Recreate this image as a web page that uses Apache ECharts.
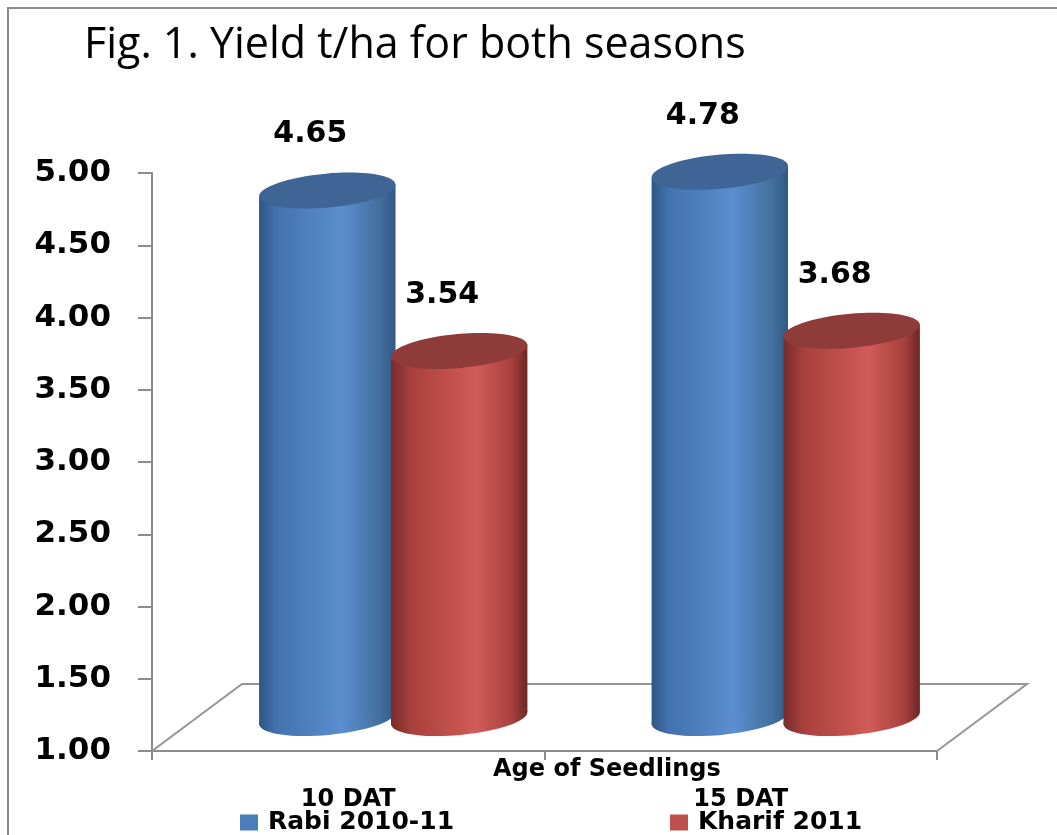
<!DOCTYPE html>
<html>
<head>
<meta charset="utf-8">
<script src="https://cdn.jsdelivr.net/npm/echarts@6/dist/echarts.min.js"></script>
<style>
  html, body { margin: 0; padding: 0; background: #ffffff; overflow: hidden; }
  #chart { width: 1057px; height: 835px; }
</style>
</head>
<body>
<div id="chart"></div>
<script>
// ---- data ----
const categories = ['10 DAT', '15 DAT'];
const seriesNames = ['Rabi 2010-11', 'Kharif 2011'];
const rabiValues = [4.65, 4.78];
const kharifValues = [3.54, 3.68];
const Y_MIN = 1.0;
const Y_MAX = 5.0;
const Y_STEP = 0.5;
const titleText = 'Fig. 1. Yield t/ha for both seasons';
const xAxisTitle = 'Age of Seedlings';

// ---- style constants ----
const DEPTH_X = 45, DEPTH_Y = -33;      // bar placed at mid-depth of the floor
const FLOOR_DX = 90, FLOOR_DY = -67;    // full floor depth
const BAR_W = 0.349;                    // fraction of band width
const BAR_OFF = [-0.168, 0.168];        // centre offsets in band width
const ELL_RY = 17;
const ELL_ROT = 0.09;
const BOLD = 'DejaVu Sans';

const G = echarts.graphic;
const bodyFill = [
  new G.LinearGradient(0, 0, 1, 0, [
    { offset: 0, color: '#2e5583' },
    { offset: 0.12, color: '#4272ae' },
    { offset: 0.6, color: '#5b8ecf' },
    { offset: 0.88, color: '#43709f' },
    { offset: 1, color: '#335884' }
  ]),
  new G.LinearGradient(0, 0, 1, 0, [
    { offset: 0, color: '#762c2a' },
    { offset: 0.15, color: '#a9403d' },
    { offset: 0.62, color: '#d15b58' },
    { offset: 0.88, color: '#a9413e' },
    { offset: 1, color: '#6c2725' }
  ])
];
const topFill = ['#3e6595', '#8f3b39'];
const legendColor = ['#4a7ebb', '#c0504d'];

function cylinderRenderer(sIdx) {
  return function (params, api) {
    const i = api.value(0);
    const v = api.value(1);
    const top = api.coord([i, v]);
    const base = api.coord([i, Y_MIN]);
    const bw = api.size([1, 0])[0];
    const w = bw * BAR_W;
    const rx = w / 2;
    const cx = top[0] + BAR_OFF[sIdx] * bw + DEPTH_X;
    const ty = top[1] + DEPTH_Y;
    const by = base[1] + DEPTH_Y;
    const ex = rx * Math.cos(ELL_ROT);
    const ey = rx * Math.sin(ELL_ROT);
    return {
      type: 'group',
      children: [
        {
          type: 'ellipse',
          shape: { cx: cx, cy: by, rx: rx, ry: ELL_RY },
          rotation: ELL_ROT, originX: cx, originY: by,
          style: { fill: bodyFill[sIdx] }
        },
        {
          type: 'polygon',
          shape: {
            points: [
              [cx - ex, ty + ey], [cx + ex, ty - ey],
              [cx + ex, by - ey], [cx - ex, by + ey]
            ]
          },
          style: { fill: bodyFill[sIdx] }
        },
        {
          type: 'ellipse',
          shape: { cx: cx, cy: ty, rx: rx, ry: ELL_RY },
          rotation: ELL_ROT, originX: cx, originY: ty,
          style: { fill: topFill[sIdx] }
        },
        {
          type: 'text',
          x: cx - 17,
          y: ty - 56,
          style: {
            text: v.toFixed(2),
            fill: '#000',
            font: 'bold 30px "' + BOLD + '"',
            align: 'center',
            verticalAlign: 'middle'
          }
        }
      ]
    };
  };
}

function floorRenderer(params, api) {
  const cs = params.coordSys;
  const x0 = cs.x, x1 = cs.x + cs.width, y0 = cs.y + cs.height;
  return {
    type: 'polyline',
    shape: {
      points: [
        [x0, y0],
        [x0 + FLOOR_DX, y0 + FLOOR_DY],
        [x1 + FLOOR_DX, y0 + FLOOR_DY],
        [x1, y0]
      ]
    },
    style: { stroke: '#959595', lineWidth: 2, fill: null }
  };
}

const chart = echarts.init(document.getElementById('chart'), null, { renderer: 'canvas', width: 1057, height: 835 });
const legendText = { fontFamily: BOLD, fontWeight: 'bold', fontSize: 25, color: '#000', padding: [0, 0, 0, 5] };
const option = {
  backgroundColor: '#ffffff',
  animation: false,
  graphic: [{
    type: 'rect',
    shape: { x: 8, y: 8, width: 1100, height: 900 },
    style: { fill: null, stroke: '#8a8a8a', lineWidth: 2 },
    silent: true,
    z: -10
  }],
  title: [
    {
      text: titleText,
      left: 84,
      top: 24,
      padding: 0,
      textStyle: { fontFamily: 'Open Sans', fontSize: 43, fontWeight: 'normal', color: '#000' }
    },
    {
      text: xAxisTitle,
      left: 493,
      top: 758,
      padding: 0,
      textStyle: { fontFamily: BOLD, fontWeight: 'bold', fontSize: 24, color: '#000' }
    }
  ],
  legend: [
    {
      data: [seriesNames[0]],
      left: 240, top: 810, padding: 0,
      icon: 'rect', itemWidth: 18, itemHeight: 16,
      textStyle: legendText
    },
    {
      data: [seriesNames[1]],
      left: 670, top: 810, padding: 0,
      icon: 'rect', itemWidth: 18, itemHeight: 16,
      textStyle: legendText
    }
  ],
  grid: { left: 152, top: 173, width: 785, height: 578, containLabel: false },
  xAxis: {
    type: 'category',
    data: categories,
    boundaryGap: true,
    axisLine: { lineStyle: { color: '#8c8c8c', width: 2 } },
    axisTick: { show: true, length: 9, alignWithLabel: false, lineStyle: { color: '#8c8c8c', width: 2 } },
    axisLabel: { margin: 37, fontFamily: BOLD, fontWeight: 'bold', fontSize: 24, color: '#000' },
    splitLine: { show: false }
  },
  yAxis: {
    type: 'value',
    min: Y_MIN, max: Y_MAX, interval: Y_STEP,
    axisLine: { show: true, lineStyle: { color: '#8c8c8c', width: 2 } },
    axisTick: { show: true, length: 14, lineStyle: { color: '#8c8c8c', width: 2 } },
    axisLabel: {
      margin: 41, fontFamily: BOLD, fontWeight: 'bold', fontSize: 31, color: '#000',
      formatter: function (v) { return v.toFixed(2); }
    },
    splitLine: { show: false }
  },
  series: [
    {
      type: 'custom',
      name: 'floor',
      silent: true,
      renderItem: floorRenderer,
      data: [[0, Y_MIN]],
      encode: { x: 0, y: 1 },
      z: 1
    },
    {
      type: 'custom',
      name: seriesNames[0],
      renderItem: cylinderRenderer(0),
      itemStyle: { color: legendColor[0] },
      data: rabiValues.map(function (v, i) { return [i, v]; }),
      encode: { x: 0, y: 1 },
      z: 2
    },
    {
      type: 'custom',
      name: seriesNames[1],
      renderItem: cylinderRenderer(1),
      itemStyle: { color: legendColor[1] },
      data: kharifValues.map(function (v, i) { return [i, v]; }),
      encode: { x: 0, y: 1 },
      z: 3
    }
  ]
};
chart.setOption(option);
</script>
</body>
</html>
